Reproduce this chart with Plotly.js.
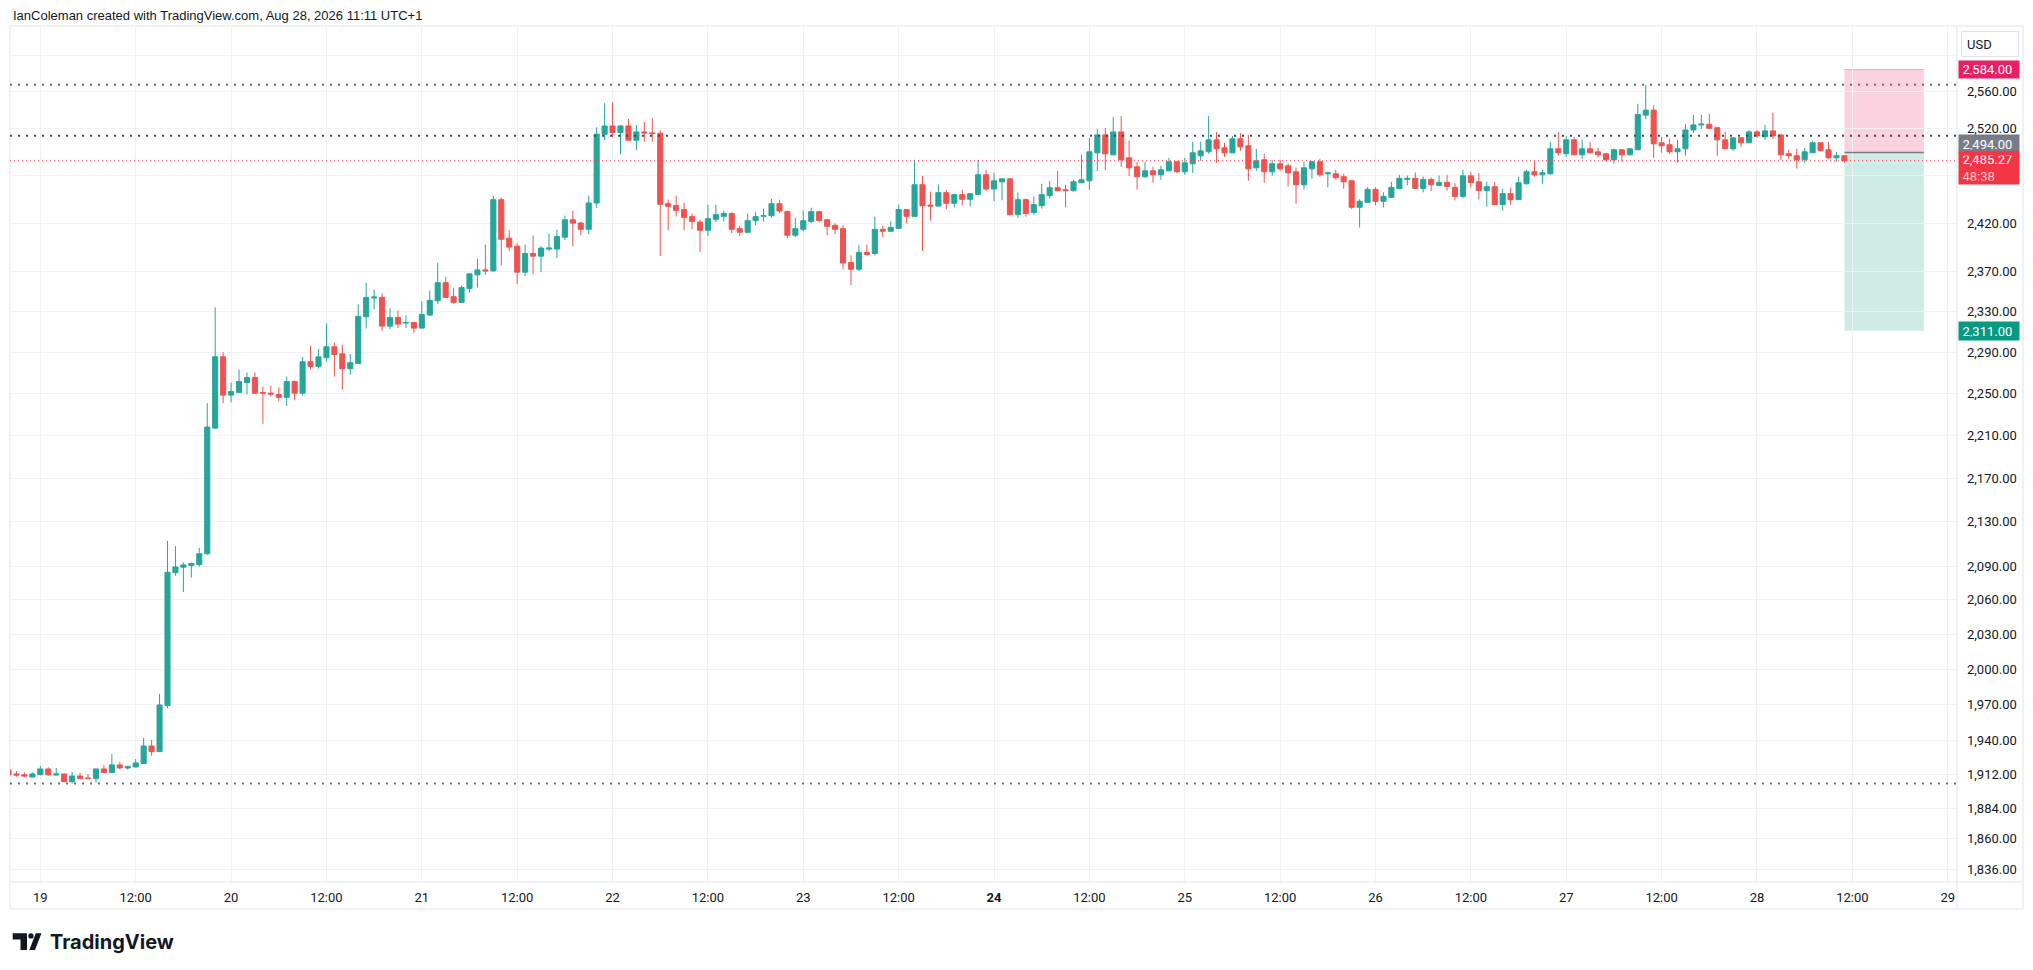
<!DOCTYPE html>
<html>
<head>
<meta charset="utf-8">
<script src="https://cdn.plot.ly/plotly-3.0.1.min.js"></script>
<style>
html,body{margin:0;padding:0;background:#ffffff;}
#chart{width:2033px;height:970px;}
</style>
</head>
<body>
<div id="chart"></div>
<script>
// ---------- DATA (hourly candles, UTC+1) ----------
const firstCandle = '2026-08-18T20:00:00Z';
const opens = [
 1915.5,1912.3,1911.7,1909.8,
 1911.7,1916.4,1911.4,1912.3,1906.0,1910.6,1909.0,1908.5,1916.4,1913.4,1919.7,1917.2,1918.0,1920.8,1935.3,1930.6,1969.0,2084.1,2089.0,2090.4,2091.3,2101.0,2216.9,2285.5,
 2248.4,2251.0,2260.6,2265.4,2250.9,2250.3,2249.0,2246.3,2261.5,2250.3,2280.7,2276.2,2284.6,2295.3,2288.4,2273.9,2279.1,2325.0,2343.7,2344.3,2315.7,2324.3,2318.7,2319.3,
 2313.7,2326.7,2340.9,2359.1,2345.0,2339.3,2353.1,2367.0,2372.0,2371.0,2444.3,2404.4,2396.2,2369.7,2388.7,2386.0,2393.2,2393.2,2405.4,2423.4,2420.0,2413.5,2440.8,2513.6,
 2522.5,2515.4,2522.5,2507.2,2516.1,2515.0,2514.7,2440.1,2438.0,2433.9,2426.6,2421.0,2412.5,2423.8,2427.0,2429.8,2414.2,2410.5,2422.4,2426.9,2427.6,2440.1,2431.8,2407.4,
 2413.5,2421.7,2431.8,2423.4,2417.6,2414.2,2379.5,2372.7,2389.7,2388.7,2413.5,2411.5,2414.5,2433.9,2426.9,2459.9,2438.7,2437.6,2451.6,2440.5,2449.5,2444.7,2449.8,2470.4,
 2455.4,2463.0,2466.1,2428.7,2444.3,2430.8,2438.0,2448.5,2456.8,2454.7,2453.7,2462.0,2464.1,2493.7,2512.9,2491.6,2516.1,2488.4,2478.9,2468.3,2474.6,2470.4,2474.6,2484.2,
 2473.6,2482.1,2490.5,2494.8,2507.6,2499.0,2493.7,2508.7,2501.2,2477.8,2486.3,2473.6,2482.1,2479.9,2473.6,2459.9,2476.7,2484.2,2471.5,2471.5,2468.3,2464.1,2436.3,2441.5,
 2455.0,2442.6,2446.7,2456.1,2465.5,2466.6,2456.1,2465.5,2459.3,2462.4,2457.2,2447.7,2469.3,2463.0,2453.7,2457.8,2439.1,2450.6,2444.3,2461.0,2473.6,2470.4,2471.4,2498.0,
 2492.7,2507.6,2491.6,2498.0,2494.8,2492.7,2486.3,2497.0,2491.6,2497.0,2534.2,2539.6,2504.4,2502.3,2494.8,2498.0,2518.2,2523.6,2524.4,2520.7,2507.6,2498.0,2509.7,2504.4,
 2516.1,2510.8,2517.2,2512.9,2492.7,2490.6,2486.3,2493.8,2504.4,2497.0,2488.4,2490.6
];
const highs = [
 1916.5,1914.7,1913.6,1913.6,
 1918.8,1917.7,1917.2,1912.6,1913.9,1913.1,1912.3,1916.6,1919.7,1928.6,1922.1,1918.7,1924.6,1942.0,1940.3,1978.8,2112.5,2107.9,2093.2,2093.2,2106.4,2240.6,2334.3,2290.0,
 2260.6,2273.0,2270.2,2270.2,2256.7,2257.6,2255.7,2266.3,2262.4,2285.5,2296.3,2293.3,2318.3,2299.3,2297.3,2288.4,2337.3,2359.1,2352.1,2348.2,2333.3,2331.3,2326.3,2319.6,
 2340.3,2351.1,2379.2,2365.0,2354.1,2356.1,2368.3,2383.3,2397.7,2448.3,2446.4,2412.5,2399.3,2397.9,2407.1,2396.2,2409.2,2413.2,2427.7,2432.8,2421.0,2448.5,2521.1,2547.1,
 2548.2,2523.2,2530.0,2523.6,2526.8,2531.0,2517.9,2444.3,2448.5,2441.2,2429.7,2423.4,2439.1,2439.1,2433.0,2431.2,2417.3,2429.7,2431.8,2434.9,2445.4,2444.3,2432.8,2425.5,
 2432.8,2435.9,2432.8,2424.5,2419.7,2417.6,2386.7,2396.9,2397.9,2426.6,2417.3,2421.7,2439.1,2434.2,2486.3,2469.3,2452.6,2459.9,2454.7,2450.5,2454.7,2450.8,2486.3,2475.7,
 2472.5,2466.4,2467.1,2451.6,2445.4,2447.4,2461.0,2464.1,2474.4,2459.9,2465.1,2491.6,2509.7,2519.3,2520.4,2532.1,2533.1,2506.5,2484.2,2484.2,2478.9,2479.9,2488.4,2485.2,
 2488.4,2505.5,2505.5,2533.1,2516.1,2504.4,2511.8,2515.0,2512.9,2497.9,2492.7,2486.3,2486.3,2482.1,2477.8,2484.2,2485.2,2487.3,2472.8,2475.7,2471.5,2465.1,2444.7,2457.2,
 2457.2,2452.0,2463.0,2470.4,2469.6,2472.9,2468.6,2467.6,2469.6,2470.4,2461.4,2475.7,2473.5,2472.4,2463.0,2463.0,2455.8,2456.8,2468.3,2475.7,2484.2,2475.7,2505.5,2516.1,
 2511.8,2510.8,2507.6,2505.5,2499.1,2493.0,2498.0,2497.3,2499.1,2546.5,2567.3,2545.0,2510.8,2508.7,2507.6,2524.7,2534.5,2534.5,2535.6,2521.0,2516.1,2510.0,2510.0,2518.2,
 2518.2,2523.6,2536.7,2514.0,2497.0,2498.0,2499.1,2506.5,2504.7,2505.5,2494.8,2490.9
];
const lows = [
 1911.0,1910.1,1909.8,1909.5,
 1911.2,1910.9,1911.0,1905.8,1904.4,1908.3,1908.3,1905.2,1913.2,1913.2,1916.4,1915.8,1917.8,1920.5,1927.3,1930.3,1966.7,2081.4,2067.0,2079.8,2089.5,2100.0,2216.0,2240.6,
 2241.4,2250.8,2249.0,2249.4,2221.0,2247.2,2242.5,2238.0,2243.4,2248.0,2273.0,2274.0,2280.7,2266.3,2253.8,2268.2,2278.8,2313.3,2332.4,2310.7,2312.7,2313.7,2313.7,2308.7,
 2313.4,2325.7,2337.9,2343.7,2337.9,2339.0,2349.1,2354.1,2367.0,2370.3,2376.5,2391.1,2357.6,2365.6,2367.6,2369.7,2391.1,2384.0,2402.3,2396.2,2407.4,2408.4,2435.6,2507.2,
 2510.5,2492.3,2507.0,2496.6,2505.8,2505.8,2386.0,2412.5,2426.8,2412.5,2413.5,2390.1,2406.4,2420.7,2421.7,2409.5,2406.4,2409.5,2417.6,2421.7,2425.5,2430.1,2404.4,2405.4,
 2411.5,2419.7,2420.7,2407.4,2408.4,2372.7,2356.6,2370.7,2386.7,2386.7,2405.4,2411.2,2414.2,2419.7,2426.6,2391.1,2422.7,2437.3,2434.3,2436.3,2438.4,2437.3,2449.5,2453.3,
 2442.6,2443.6,2427.6,2425.5,2426.6,2428.7,2434.9,2445.4,2452.6,2436.3,2452.6,2461.7,2454.7,2474.4,2475.1,2491.3,2478.9,2469.3,2454.7,2467.3,2462.0,2465.1,2474.3,2472.5,
 2470.4,2472.5,2485.2,2492.7,2483.1,2489.4,2493.4,2495.8,2464.1,2474.6,2462.0,2469.3,2474.6,2457.9,2440.1,2454.7,2466.1,2468.3,2457.2,2465.1,2455.7,2434.3,2415.2,2441.2,
 2438.4,2436.3,2445.7,2455.0,2459.3,2456.0,2452.0,2453.3,2458.2,2453.9,2443.6,2445.7,2456.8,2444.3,2437.0,2438.8,2432.8,2439.1,2444.0,2460.0,2468.3,2461.0,2470.4,2490.6,
 2489.4,2491.3,2487.4,2493.5,2489.4,2484.2,2482.1,2484.2,2490.6,2496.7,2529.8,2488.4,2493.8,2492.7,2483.1,2490.6,2514.9,2519.3,2519.0,2490.6,2497.7,2495.9,2500.1,2504.1,
 2509.7,2507.6,2508.7,2486.3,2487.4,2477.1,2483.1,2493.5,2495.6,2487.4,2484.2,2483.1
];
const closes = [
 1911.7,1911.4,1910.6,1912.3,
 1916.4,1911.7,1912.3,1906.0,1910.6,1908.5,1908.5,1916.4,1913.4,1919.7,1917.2,1918.5,1921.3,1935.3,1930.6,1969.5,2084.4,2089.2,2091.0,2092.2,2101.0,2217.9,2285.5,2248.4,
 2251.9,2261.5,2265.4,2250.3,2250.3,2249.4,2246.3,2261.5,2250.3,2280.7,2276.2,2285.5,2295.3,2287.8,2273.9,2279.7,2325.3,2344.3,2344.6,2315.7,2324.3,2317.7,2319.3,2313.7,
 2327.3,2341.3,2359.1,2344.3,2339.3,2354.1,2368.0,2372.0,2371.0,2444.3,2403.3,2395.2,2369.7,2388.7,2386.0,2394.2,2394.2,2406.1,2423.4,2420.0,2413.5,2440.8,2513.6,2522.5,
 2515.4,2522.5,2507.2,2516.1,2515.0,2514.3,2439.4,2437.3,2433.2,2425.8,2421.7,2412.5,2424.5,2428.7,2429.8,2413.5,2410.5,2422.4,2426.6,2427.6,2440.1,2432.5,2407.4,2414.2,
 2422.4,2431.8,2422.7,2416.6,2413.5,2378.9,2372.7,2389.7,2387.7,2413.5,2411.5,2415.5,2433.9,2426.9,2459.9,2438.0,2437.6,2451.6,2440.5,2449.5,2444.7,2450.5,2470.4,2455.4,
 2464.1,2466.1,2428.7,2444.3,2429.8,2439.1,2449.5,2456.8,2453.7,2453.7,2463.0,2465.1,2494.8,2512.9,2492.7,2516.1,2486.3,2477.8,2468.3,2474.6,2470.4,2475.7,2484.2,2473.6,
 2483.1,2493.7,2495.8,2507.6,2498.0,2493.7,2508.7,2500.1,2476.7,2485.2,2473.6,2482.1,2476.7,2472.5,2459.9,2477.8,2484.2,2470.4,2472.5,2467.3,2463.0,2436.3,2442.6,2455.0,
 2442.6,2447.7,2457.2,2466.6,2466.6,2456.1,2465.5,2459.9,2462.4,2458.2,2447.7,2469.3,2462.2,2453.7,2457.8,2439.1,2450.6,2444.3,2462.0,2473.6,2470.4,2472.5,2498.0,2493.8,
 2507.6,2491.6,2498.0,2493.8,2491.6,2486.3,2497.0,2491.6,2498.0,2534.9,2539.6,2503.3,2501.2,2494.8,2498.0,2518.2,2523.6,2524.4,2520.0,2507.6,2498.0,2509.7,2504.4,2516.1,
 2511.8,2517.2,2511.8,2491.6,2490.6,2486.3,2494.8,2504.4,2495.9,2488.4,2490.6,2485.27
];

// price axis ticks
const priceTicks = [1836,1860,1884,1912,1940,1970,2000,2030,2060,2090,2130,2170,2210,2250,2290,2330,2370,2420,2470,2520,2560,2600];
const hiddenPriceTicks = [2470,2600];
// time axis ticks
const timeTicks = ['2026-08-19 00:00','2026-08-19 12:00','2026-08-20 00:00','2026-08-20 12:00','2026-08-21 00:00','2026-08-21 12:00',
 '2026-08-22 00:00','2026-08-22 12:00','2026-08-23 00:00','2026-08-23 12:00','2026-08-24 00:00','2026-08-24 12:00',
 '2026-08-25 00:00','2026-08-25 12:00','2026-08-26 00:00','2026-08-26 12:00','2026-08-27 00:00','2026-08-27 12:00',
 '2026-08-28 00:00','2026-08-28 12:00','2026-08-29 00:00'];
const timeLabels = ['19','12:00','20','12:00','21','12:00','22','12:00','23','12:00','<b>24</b>','12:00','25','12:00','26','12:00','27','12:00','28','12:00','29'];

// drawn levels and position tool
const horizontalLevels = [2567.3, 2512.0, 1904.5];
const lastPrice = 2485.27;
const countdown = '48:38';
const entryPrice = 2494.00, stopPrice = 2584.00, targetPrice = 2311.00;
const positionStart = '2026-08-28 11:00', positionEnd = '2026-08-28 21:00';
const headerText = 'IanColeman created with TradingView.com, Aug 28, 2026 11:11 UTC+1';

// ---------- BUILD ----------
function fmtTime(ms){ return new Date(ms).toISOString().slice(0,16).replace('T',' '); }
const t0 = Date.parse(firstCandle);
const times = opens.map((_, i) => fmtTime(t0 + i*3600000));
const fmtPrice = v => v.toLocaleString('en-US',{minimumFractionDigits:2, maximumFractionDigits:2});

const UP = '#26a69a', DOWN = '#ef5350';
const FONT = 'Roboto, "Liberation Sans", Arial, sans-serif';
const TXT = '#131722';
const GRID = '#f0f1f4';

const candles = {
  type:'candlestick', x: times, open: opens, high: highs, low: lows, close: closes,
  increasing:{line:{color:UP, width:1}, fillcolor:UP},
  decreasing:{line:{color:DOWN, width:1}, fillcolor:DOWN},
  whiskerwidth:0, hoverinfo:'skip', showlegend:false
};

// plot box in pixels: x 10..1957, y 26..882
const PL=10, PR=1957, PT=26, PB=882;
const px = v => (v-PL)/(PR-PL);
const py = v => (PB-v)/(PB-PT);

const shapes = [];
// frame
shapes.push({type:'rect', xref:'paper', yref:'paper', x0:px(10), x1:px(2023), y0:py(909), y1:py(26), line:{color:'#e0e3eb', width:1}, layer:'below'});
shapes.push({type:'line', xref:'paper', yref:'paper', x0:px(10), x1:px(2023), y0:0, y1:0, line:{color:'#e0e3eb', width:1}});
shapes.push({type:'line', xref:'paper', yref:'paper', x0:1, x1:1, y0:py(909), y1:1, line:{color:'#e0e3eb', width:1}});
// position tool
shapes.push({type:'rect', xref:'x', yref:'y', x0:positionStart, x1:positionEnd, y0:entryPrice, y1:stopPrice, fillcolor:'rgba(233,30,99,0.2)', line:{width:0}, layer:'below'});
shapes.push({type:'line', xref:'x', yref:'y', x0:positionStart, x1:positionEnd, y0:stopPrice, y1:stopPrice, line:{color:'rgba(233,30,99,0.35)', width:1}, layer:'below'});
shapes.push({type:'rect', xref:'x', yref:'y', x0:positionStart, x1:positionEnd, y0:targetPrice, y1:entryPrice, fillcolor:'rgba(8,153,129,0.2)', line:{width:0}, layer:'below'});
shapes.push({type:'line', xref:'x', yref:'y', x0:positionStart, x1:positionEnd, y0:entryPrice, y1:entryPrice, line:{color:'#787b86', width:1.5}});
// horizontal levels
horizontalLevels.forEach((v,i) => shapes.push({type:'line', xref:'paper', yref:'y', x0:0, x1:1, y0:v, y1:v,
  line:{color: i===1 ? '#434651' : '#6a6d78', width:2, dash:'2px,6px'}}));
// last price line
shapes.push({type:'line', xref:'paper', yref:'y', x0:0, x1:1, y0:lastPrice, y1:lastPrice, line:{color:'#f23645', width:1, dash:'1px,3px'}});
// TradingView logo
shapes.push({type:'path', xref:'paper', yref:'paper', fillcolor:'#131722', line:{width:0},
  path:`M ${px(12.7)} ${py(933.3)} L ${px(27)} ${py(933.3)} L ${px(27)} ${py(950)} L ${px(20.5)} ${py(950)} L ${px(20.5)} ${py(939.5)} L ${px(12.7)} ${py(939.5)} Z`});
shapes.push({type:'circle', xref:'paper', yref:'paper', fillcolor:'#131722', line:{width:0}, x0:px(28.3), x1:px(33.6), y0:py(938.6), y1:py(933.3)});
shapes.push({type:'path', xref:'paper', yref:'paper', fillcolor:'#131722', line:{width:0},
  path:`M ${px(29.3)} ${py(950)} L ${px(35.8)} ${py(933.3)} L ${px(41.5)} ${py(933.3)} L ${px(35)} ${py(950)} Z`});

const L10 = Math.log10;
const annotations = [];
function priceLabel(v, text, bg, yshift, h){
  annotations.push({xref:'paper', yref:'y', x:1, y:L10(v), xanchor:'left', yanchor:'middle', xshift:1, yshift:yshift,
    text:text, showarrow:false, bgcolor:bg, width:53, height:h, borderpad:3.5, align:'left',
    font:{family:FONT, size:13, color:'#ffffff'}});
}
priceLabel(stopPrice, fmtPrice(stopPrice), '#e91e63', 0, 10);
priceLabel(entryPrice, fmtPrice(entryPrice), '#787b86', 9, 11);
priceLabel(lastPrice, fmtPrice(lastPrice)+'<br><span style="color:#fbc9cd">'+countdown+'</span>', '#f23645', -7, 25);
priceLabel(targetPrice, fmtPrice(targetPrice), '#089981', 0, 11);
annotations.push({xref:'paper', yref:'paper', x:px(1961), y:py(31), xanchor:'left', yanchor:'top', text:'USD', showarrow:false,
  bgcolor:'#ffffff', bordercolor:'#e0e3eb', borderwidth:1, borderpad:5, width:46, height:14, align:'left',
  font:{family:FONT, size:13, color:TXT}});
annotations.push({xref:'paper', yref:'paper', x:px(11), y:py(15), xanchor:'left', yanchor:'middle', text:headerText, showarrow:false,
  font:{family:'"Liberation Sans", Arial, sans-serif', size:13, color:TXT}});
annotations.push({xref:'paper', yref:'paper', x:px(48), y:py(942), xanchor:'left', yanchor:'middle', text:'<b>TradingView</b>', showarrow:false,
  font:{family:'Inter, Roboto, sans-serif', size:20, color:'#131722'}});

const layout = {
  width:2033, height:970,
  margin:{l:PL, r:2033-PR, t:PT, b:970-PB, pad:0},
  paper_bgcolor:'#ffffff', plot_bgcolor:'#ffffff',
  showlegend:false, dragmode:false, hovermode:false,
  boxgap:0.2, boxgroupgap:0.2,
  font:{family:FONT, size:13, color:TXT},
  xaxis:{type:'date', range:['2026-08-18 20:11','2026-08-29 01:10'], tickmode:'array', tickvals:timeTicks, ticktext:timeLabels,
    showgrid:true, gridcolor:GRID, gridwidth:1, zeroline:false, showline:false, ticks:'', ticklabelstandoff:6,
    tickfont:{family:FONT, size:13, color:TXT}, rangeslider:{visible:false}, fixedrange:true},
  yaxis:{type:'log', side:'right', range:[L10(1826.0), L10(2632.6)], tickmode:'array', tickvals:priceTicks,
    ticktext:priceTicks.map(v => hiddenPriceTicks.includes(v) ? '' : fmtPrice(v)),
    showgrid:true, gridcolor:GRID, gridwidth:1, zeroline:false, showline:false, ticks:'', ticklabelstandoff:9,
    tickfont:{family:FONT, size:13, color:TXT}, fixedrange:true},
  shapes:shapes, annotations:annotations
};

Plotly.newPlot('chart', [candles], layout, {displayModeBar:false, staticPlot:true});
</script>
</body>
</html>
